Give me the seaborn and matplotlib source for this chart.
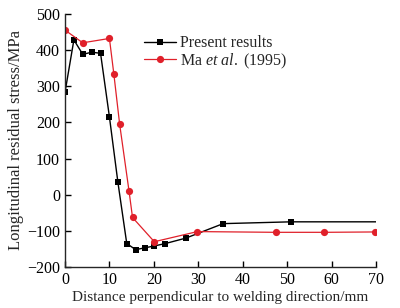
import matplotlib
matplotlib.use("Agg")
import matplotlib.pyplot as plt
import numpy as np
import seaborn as sns

# Present results (last point at 70 mm is the line end, no marker)
present_x = [0, 2, 4, 6, 8, 10, 11.9, 13.9, 15.9, 17.9, 20, 22.6, 27.2, 35.6, 50.9, 70]
present_y = [283, 428, 388, 394, 391, 215, 35, -135, -152, -147, -142, -135, -120, -80, -75, -75]

# Ma et al. (1995)
ma_x = [0, 4, 10, 11, 12.3, 14.4, 15.2, 20.1, 29.8, 47.4, 58.4, 69.7]
ma_y = [455, 420, 432, 333, 195, 11, -63, -130, -102, -104, -104, -103]

sns.set_theme(style="ticks")
plt.rcParams.update({
    "font.family": ["Liberation Serif", "DejaVu Serif"],
    "mathtext.fontset": "custom",
    "mathtext.rm": "Liberation Serif",
    "mathtext.it": "Liberation Serif:italic",
    "axes.spines.top": False,
    "axes.spines.right": False,
    "xtick.direction": "in",
    "ytick.direction": "in",
    "axes.linewidth": 1.0,
    "font.size": 11,
})

fig = plt.figure(figsize=(4.0, 3.08), dpi=100)
ax = fig.add_axes([0.1625, 0.133, 0.7775, 0.822])

sns.lineplot(x=present_x, y=present_y, ax=ax, color="black", lw=1.0,
             marker="s", markersize=4.5, markeredgewidth=0,
             markevery=list(range(len(present_x) - 1)),
             label="Present results", sort=False)
sns.lineplot(x=ma_x, y=ma_y, ax=ax, color="#e0202a", lw=0.9,
             marker="o", markersize=5.2, markeredgewidth=0,
             label="Ma $\\it{et\\ al.}$ (1995)", sort=False)

ax.set_xlim(0, 70)
ax.set_ylim(-200, 500)
ax.set_xticks(np.arange(0, 71, 10))
ax.set_yticks(np.arange(-200, 501, 100))
ax.tick_params(labelsize=11.5, length=4, width=1, colors="black")
ax.set_xlabel("Distance perpendicular to welding direction/mm", fontsize=11, labelpad=2)
ax.set_ylabel("Longitudinal residual stress/MPa", fontsize=12, labelpad=2)

ax.legend(loc="upper left", bbox_to_anchor=(0.255, 0.915), frameon=False,
          fontsize=11.5, handlelength=2.0, handletextpad=0.25, labelspacing=0.0,
          borderaxespad=0, borderpad=0)

fig.savefig("out.png", dpi=100)
